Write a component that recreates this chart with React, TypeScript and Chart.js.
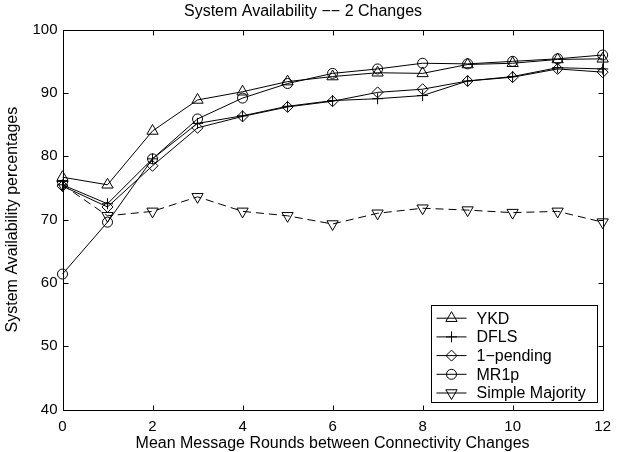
import React, { useEffect, useRef } from 'react';
import { Chart, registerables } from 'chart.js';

Chart.register(...registerables);

// ---- data ----
const rounds = [0, 1, 2, 3, 4, 5, 6, 7, 8, 9, 10, 11, 12];
const ykd = [76.7, 75.5, 84.0, 88.9, 90.2, 91.8, 92.6, 93.2, 93.1, 94.5, 94.7, 95.3, 95.4];
const dfls = [75.5, 72.5, 79.6, 85.2, 86.4, 87.9, 88.8, 89.1, 89.6, 91.9, 92.6, 94.0, 93.8];
const onePending = [75.3, 72.0, 78.5, 84.5, 86.3, 87.8, 88.7, 90.1, 90.6, 91.9, 92.5, 93.8, 93.3];
const mr1p = [61.4, 69.6, 79.6, 85.9, 89.2, 91.5, 93.1, 93.8, 94.7, 94.6, 95.0, 95.4, 96.0];
const simpleMajority = [75.5, 70.6, 71.3, 73.6, 71.3, 70.6, 69.3, 71.0, 71.8, 71.5, 71.1, 71.3, 69.6];

const seriesNames = ['YKD', 'DFLS', '1\u2212pending', 'MR1p', 'Simple Majority'];
const xTickValues = [0, 2, 4, 6, 8, 10, 12];
const yTickValues = [40, 50, 60, 70, 80, 90, 100];

const chartTitle = 'System Availability \u2212\u2212 2 Changes';
const xTitle = 'Mean Message Rounds between Connectivity Changes';
const yTitle = 'System Availability percentages';

const FONT = '"Liberation Sans", Arial, Helvetica, sans-serif';

type MarkerSpec = { style: string; rotation: number; radius: number; dash: number[] };
const markers: MarkerSpec[] = [
  { style: 'triangle', rotation: 0, radius: 6.5, dash: [] },
  { style: 'cross', rotation: 0, radius: 5.5, dash: [] },
  { style: 'rectRot', rotation: 0, radius: 5.5, dash: [] },
  { style: 'circle', rotation: 0, radius: 5, dash: [] },
  { style: 'triangle', rotation: 180, radius: 6.5, dash: [8, 5] },
];

function drawMarker(ctx: CanvasRenderingContext2D, m: MarkerSpec, x: number, y: number) {
  const r = m.radius;
  ctx.beginPath();
  if (m.style === 'triangle') {
    let rad = (m.rotation * Math.PI) / 180;
    ctx.moveTo(x + Math.sin(rad) * r, y - Math.cos(rad) * r);
    rad += (2 * Math.PI) / 3;
    ctx.lineTo(x + Math.sin(rad) * r, y - Math.cos(rad) * r);
    rad += (2 * Math.PI) / 3;
    ctx.lineTo(x + Math.sin(rad) * r, y - Math.cos(rad) * r);
    ctx.closePath();
  } else if (m.style === 'circle') {
    ctx.arc(x, y, r, 0, Math.PI * 2);
  } else if (m.style === 'rectRot') {
    ctx.moveTo(x - r, y);
    ctx.lineTo(x, y - r);
    ctx.lineTo(x + r, y);
    ctx.lineTo(x, y + r);
    ctx.closePath();
  } else if (m.style === 'cross') {
    ctx.moveTo(x - r, y);
    ctx.lineTo(x + r, y);
    ctx.moveTo(x, y - r);
    ctx.lineTo(x, y + r);
  }
  ctx.stroke();
}

const framePlugin = {
  id: 'matlabFrame',
  beforeDatasetsDraw(chart: any) {
    const { ctx, chartArea: a, scales } = chart;
    const xs = scales.x;
    const ys = scales.y;
    const tick = 5;
    ctx.save();
    ctx.strokeStyle = '#000';
    ctx.lineWidth = 1;
    ctx.setLineDash([]);
    const L = Math.round(a.left) + 0.5;
    const R = Math.round(a.right) + 0.5;
    const T = Math.round(a.top) + 0.5;
    const B = Math.round(a.bottom) + 0.5;
    ctx.strokeRect(L, T, R - L, B - T);
    ctx.beginPath();
    xs.ticks.forEach((t: any) => {
      const px = Math.round(xs.getPixelForValue(t.value)) + 0.5;
      ctx.moveTo(px, B);
      ctx.lineTo(px, B - tick);
      ctx.moveTo(px, T);
      ctx.lineTo(px, T + tick);
    });
    ys.ticks.forEach((t: any) => {
      const py = Math.round(ys.getPixelForValue(t.value)) + 0.5;
      ctx.moveTo(L, py);
      ctx.lineTo(L + tick, py);
      ctx.moveTo(R, py);
      ctx.lineTo(R - tick, py);
    });
    ctx.stroke();
    ctx.restore();
  },
};

const legendPlugin = {
  id: 'boxLegend',
  afterDatasetsDraw(chart: any) {
    const { ctx, chartArea: a } = chart;
    const w = 166;
    const h = 97;
    const right = Math.round(a.right - 6) + 0.5;
    const bottom = Math.round(a.bottom - 7.5) + 0.5;
    const left = right - w;
    const top = bottom - h;
    ctx.save();
    ctx.fillStyle = '#fff';
    ctx.fillRect(left, top, w, h);
    ctx.strokeStyle = '#000';
    ctx.lineWidth = 1;
    ctx.strokeRect(left, top, w, h);
    ctx.font = `16px ${FONT}`;
    ctx.textBaseline = 'middle';
    ctx.textAlign = 'left';
    ctx.fillStyle = '#000';
    chart.data.datasets.forEach((ds: any, i: number) => {
      const cy = top + 12.7 + i * 18.7;
      ctx.setLineDash([]);
      ctx.beginPath();
      ctx.moveTo(left + 5, cy);
      ctx.lineTo(left + 35, cy);
      ctx.stroke();
      drawMarker(ctx, markers[i], left + 20, cy);
      ctx.fillText(ds.label, left + 45, cy + 1);
    });
    ctx.restore();
  },
};

export default function App() {
  const ref = useRef<HTMLCanvasElement | null>(null);

  useEffect(() => {
    if (!ref.current) return;
    const seriesValues = [ykd, dfls, onePending, mr1p, simpleMajority];
    const datasets = seriesValues.map((vals, i) => ({
      label: seriesNames[i],
      data: rounds.map((r, j) => ({ x: r, y: vals[j] })),
      borderColor: '#000',
      borderWidth: 1,
      borderDash: markers[i].dash,
      backgroundColor: 'rgba(0,0,0,0)',
      pointStyle: markers[i].style,
      pointRotation: markers[i].rotation,
      pointRadius: markers[i].radius,
      pointBorderWidth: 1,
      pointBorderColor: '#000',
      pointBackgroundColor: 'rgba(0,0,0,0)',
      fill: false,
      tension: 0,
      clip: false as any,
    }));

    const chart = new Chart(ref.current, {
      type: 'line',
      data: { datasets },
      plugins: [framePlugin, legendPlugin],
      options: {
        animation: false,
        responsive: false,
        events: [],
        layout: { padding: { top: 0, right: 13, bottom: 0, left: 0 } },
        plugins: {
          legend: { display: false },
          tooltip: { enabled: false },
          title: {
            display: true,
            text: chartTitle,
            color: '#000',
            font: { family: FONT, size: 16, weight: 'normal' },
            padding: { top: 1.5, bottom: 9 },
          },
        },
        scales: {
          x: {
            type: 'linear',
            min: 0,
            max: 12,
            afterBuildTicks: (scale: any) => {
              scale.ticks = xTickValues.map((v) => ({ value: v }));
            },
            afterFit: (scale: any) => {
              scale.height = 42.5;
            },
            grid: { display: false, drawTicks: false },
            border: { display: false },
            ticks: {
              color: '#000',
              font: { family: FONT, size: 15 },
              padding: 8,
              maxRotation: 0,
              autoSkip: false,
            },
            title: {
              display: true,
              text: xTitle,
              color: '#000',
              font: { family: FONT, size: 16 },
              padding: { top: 0, bottom: -1.5 },
            },
          },
          y: {
            type: 'linear',
            min: 40,
            max: 100,
            afterBuildTicks: (scale: any) => {
              scale.ticks = yTickValues.map((v) => ({ value: v }));
            },
            afterFit: (scale: any) => {
              scale.width = 62.5;
            },
            grid: { display: false, drawTicks: false },
            border: { display: false },
            ticks: {
              color: '#000',
              font: { family: FONT, size: 15 },
              padding: 5,
              autoSkip: false,
            },
            title: {
              display: true,
              text: yTitle,
              color: '#000',
              font: { family: FONT, size: 16 },
              padding: { top: 3.4, bottom: 0 },
            },
          },
        },
      } as any,
    });
    return () => chart.destroy();
  }, []);

  return (
    <div style={{ position: 'absolute', left: 0, top: 0, width: 619, height: 452, background: '#fff' }}>
      <canvas ref={ref} width={619} height={452} style={{ display: 'block' }} />
    </div>
  );
}
